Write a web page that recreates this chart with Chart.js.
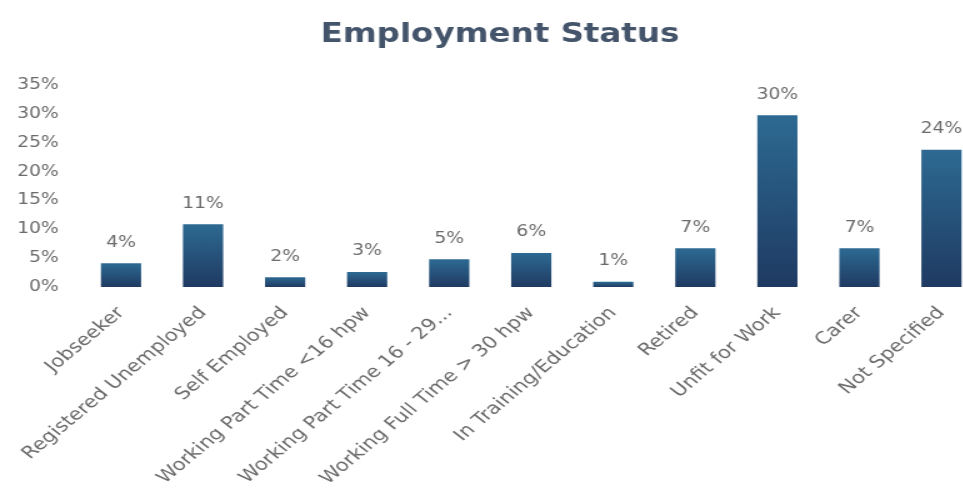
<!DOCTYPE html>
<html>
<head>
<meta charset="utf-8">
<script src="https://cdn.jsdelivr.net/npm/chart.js@4/dist/chart.umd.min.js"></script>
<style>
  html, body { margin: 0; padding: 0; background: #fff; overflow: hidden; }
  #wrap { position: relative; width: 800px; height: 488px; transform: scaleX(1.25); transform-origin: 0 0; }
</style>
</head>
<body>
<div id="wrap"><canvas id="c"></canvas></div>
<script>
const categories = ["Jobseeker", "Registered Unemployed", "Self Employed", "Working Part Time <16 hpw",
  "Working Part Time 16 - 29...", "Working Full Time > 30 hpw", "In Training/Education", "Retired",
  "Unfit for Work", "Carer", "Not Specified"];
const values = [4.1, 10.9, 1.7, 2.6, 4.8, 5.9, 0.9, 6.7, 29.8, 6.7, 23.8];
const valueLabels = ["4%", "11%", "2%", "3%", "5%", "6%", "1%", "7%", "30%", "7%", "24%"];
const yTicks = [0, 5, 10, 15, 20, 25, 30, 35];

const grey = "#6b6b6b";
const font = "'DejaVu Sans', sans-serif";

const labelPlugin = {
  id: "valueLabels",
  afterDatasetsDraw(chart) {
    const ctx = chart.ctx;
    const meta = chart.getDatasetMeta(0);
    ctx.save();
    ctx.font = "15px " + font;
    ctx.fillStyle = grey;
    ctx.textAlign = "center";
    ctx.textBaseline = "bottom";
    meta.data.forEach((el, i) => {
      ctx.fillText(valueLabels[i], el.x, el.y - 13);
    });
    ctx.restore();
  }
};

function barFill(context) {
  const chart = context.chart;
  const area = chart.chartArea;
  if (!area) return "#25507a";
  const el = context.element;
  const top = el && el.y !== undefined ? el.y : area.top;
  const g = chart.ctx.createLinearGradient(0, top, 0, area.bottom);
  g.addColorStop(0, "#2d6a92");
  g.addColorStop(1, "#1f3a62");
  return g;
}

new Chart(document.getElementById("c"), {
  type: "bar",
  data: {
    labels: categories,
    datasets: [{
      data: values,
      backgroundColor: barFill,
      borderWidth: 0,
      categoryPercentage: 1.0,
      barPercentage: 0.49
    }]
  },
  options: {
    responsive: true,
    maintainAspectRatio: false,
    animation: false,
    layout: { padding: { left: 14, right: 14, top: 0, bottom: 0 } },
    plugins: {
      legend: { display: false },
      tooltip: { enabled: false },
      title: {
        display: true,
        text: "Employment Status",
        color: "#44546a",
        font: { family: font, size: 26, weight: "bold" },
        padding: { top: 20, bottom: 34 }
      }
    },
    scales: {
      x: {
        grid: { display: false },
        border: { display: false },
        afterFit(scale) {
          scale.paddingLeft = 0;
          scale.paddingRight = 0;
          scale.height = 201;
        },
        ticks: {
          color: grey,
          font: { family: font, size: 17 },
          minRotation: 46,
          maxRotation: 46,
          autoSkip: false,
          padding: 8
        }
      },
      y: {
        min: 0,
        max: 35,
        grid: { display: false, drawTicks: false },
        border: { display: false },
        afterBuildTicks(axis) { axis.ticks = yTicks.map(v => ({ value: v })); },
        afterFit(scale) { scale.width = 50; },
        ticks: {
          color: grey,
          font: { family: font, size: 15 },
          padding: 17,
          callback: v => v + "%"
        }
      }
    }
  },
  plugins: [labelPlugin]
});
</script>
</body>
</html>
